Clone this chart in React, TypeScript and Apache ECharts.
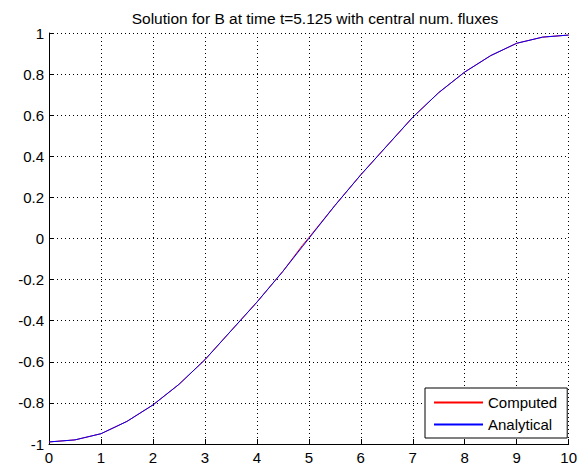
import React, { useEffect, useRef } from "react";
import * as echarts from "echarts";

const xValues = [0, 0.5, 1, 1.5, 2, 2.5, 3, 3.5, 4, 4.5, 4.875, 5, 5.5, 6, 6.5, 7, 7.5, 8, 8.5, 9, 9.5, 10];
const analytical = [-0.99, -0.98, -0.95, -0.89, -0.81, -0.71, -0.59, -0.45, -0.31, -0.16, -0.04, 0.0, 0.16, 0.31, 0.45, 0.59, 0.71, 0.81, 0.89, 0.95, 0.98, 0.99];
const computed = [-0.99, -0.98, -0.95, -0.89, -0.81, -0.71, -0.59, -0.45, -0.31, -0.16, -0.034, 0.004, 0.16, 0.31, 0.45, 0.59, 0.71, 0.81, 0.89, 0.95, 0.98, 0.99];
const titleText = "Solution for B at time t=5.125 with central num. fluxes";

const FONT = "'Liberation Sans', Arial, sans-serif";

export default function App() {
  const ref = useRef<HTMLDivElement>(null);
  useEffect(() => {
    if (!ref.current) return;
    const chart = echarts.init(ref.current, undefined, { renderer: "svg" });
    const axisCommon = {
      axisLine: { show: true, onZero: false, lineStyle: { color: "#000", width: 1 } },
      axisTick: { show: true, inside: true, length: 5, lineStyle: { color: "#000" } },
      axisLabel: { color: "#000", fontSize: 15, fontFamily: FONT },
      splitLine: { show: true, lineStyle: { color: "#000", width: 1, type: [1, 3] } },
    };
    chart.setOption({
      animation: false,
      backgroundColor: "#fff",
      title: {
        text: titleText,
        left: 310,
        textAlign: "center",
        top: 5,
        textStyle: { fontSize: 15.5, fontWeight: "normal", color: "#000", fontFamily: FONT },
      },
      grid: { left: 49, right: 8, top: 33, bottom: 23, containLabel: false },
      xAxis: {
        type: "value",
        min: 0,
        max: 10,
        interval: 1,
        ...axisCommon,
        axisLabel: { ...axisCommon.axisLabel, margin: 6 },
      },
      yAxis: {
        type: "value",
        min: -1,
        max: 1,
        interval: 0.2,
        ...axisCommon,
        axisLabel: {
          ...axisCommon.axisLabel,
          margin: 5,
          formatter: (v: number) => String(Math.round(v * 10) / 10),
        },
      },
      legend: {
        orient: "vertical",
        left: 425,
        top: 388,
        padding: [7, 10, 6, 9],
        itemWidth: 49,
        itemHeight: 2,
        itemGap: 7,
        icon: "rect",
        backgroundColor: "#fff",
        borderColor: "#000",
        borderWidth: 1,
        borderRadius: 0,
        textStyle: { fontSize: 15, color: "#000", fontFamily: FONT },
        data: ["Computed", "Analytical"],
      },
      series: [
        {
          name: "Computed",
          type: "line",
          data: xValues.map((x, i) => [x, computed[i]]),
          showSymbol: false,
          symbol: "none",
          lineStyle: { color: "red", width: 1 },
          itemStyle: { color: "red" },
          z: 2,
        },
        {
          name: "Analytical",
          type: "line",
          data: xValues.map((x, i) => [x, analytical[i]]),
          showSymbol: false,
          symbol: "none",
          lineStyle: { color: "blue", width: 1 },
          itemStyle: { color: "blue" },
          z: 3,
        },
      ],
    });
    return () => chart.dispose();
  }, []);
  return <div ref={ref} style={{ width: 580, height: 467, position: "absolute", left: 0, top: 0 }} />;
}
